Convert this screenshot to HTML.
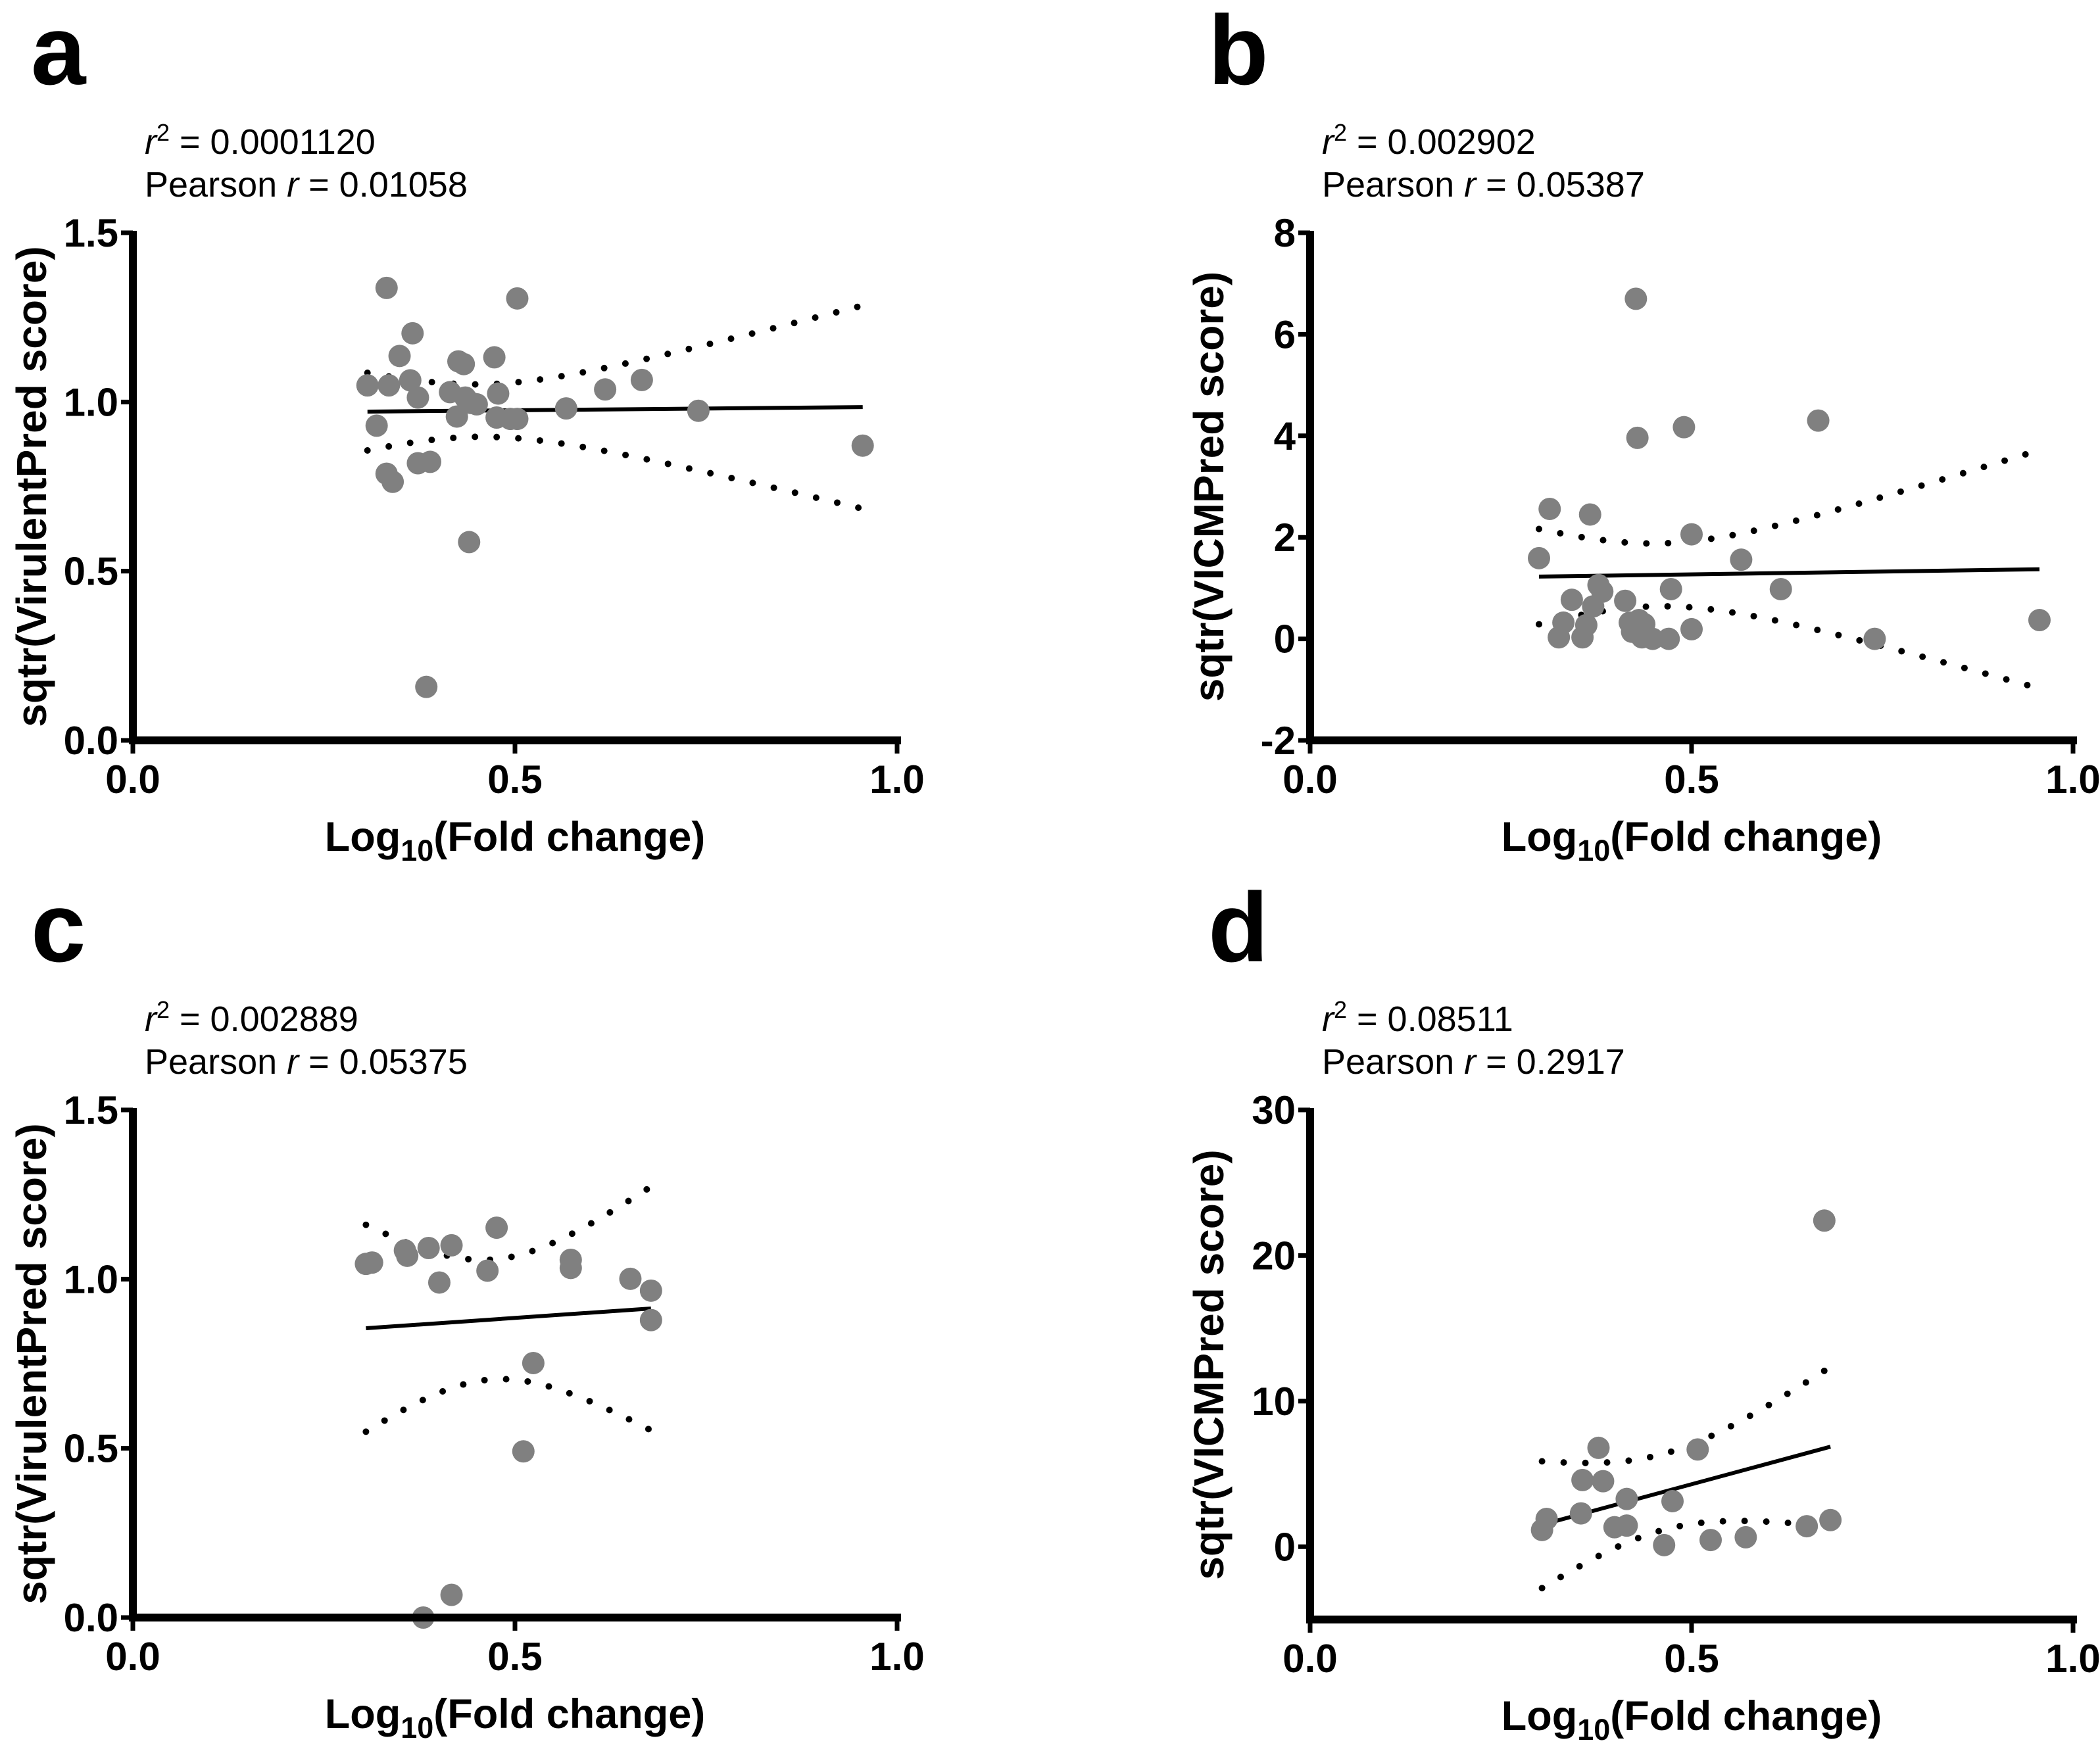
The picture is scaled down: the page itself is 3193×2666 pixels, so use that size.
<!DOCTYPE html>
<html><head><meta charset="utf-8"><style>
html,body{margin:0;padding:0;background:#fff}
svg{display:block}
.tick{font-family:"Liberation Sans Narrow","Liberation Sans",sans-serif;font-weight:bold;font-size:60px}
.ttl{font-family:"Liberation Sans",sans-serif;font-weight:bold;font-size:63px}
.ann{font-family:"Liberation Sans",sans-serif;font-size:54px}
.let{font-family:"Liberation Sans",sans-serif;font-weight:bold;font-size:150px}
</style></head><body>
<svg id="fig" width="3193" height="2666" viewBox="0 0 3193 2666" xmlns="http://www.w3.org/2000/svg"></svg>
<script>
// Panel a data
const aX=[0.307,0.332,0.319,0.335,0.349,0.363,0.366,0.373,0.332,0.340,0.373,0.389,0.384,0.415,0.426,0.433,0.424,0.435,0.443,0.450,0.440,0.473,0.478,0.476,0.494,0.503,0.503,0.567,0.618,0.666,0.740,0.955];
const aY=[1.049,1.337,0.930,1.049,1.136,1.064,1.203,1.013,0.788,0.764,0.819,0.823,0.158,1.029,1.120,1.112,0.957,1.013,0.997,0.993,0.586,1.132,1.025,0.954,0.950,0.950,1.306,0.981,1.037,1.065,0.974,0.871];
// Panel b data
const bX=[0.300,0.314,0.326,0.332,0.343,0.357,0.362,0.367,0.371,0.378,0.383,0.413,0.419,0.422,0.427,0.429,0.431,0.435,0.438,0.449,0.470,0.473,0.490,0.500,0.500,0.565,0.617,0.666,0.740,0.956];
const bY=[1.59,2.56,0.03,0.32,0.77,0.03,0.27,2.45,0.64,1.06,0.93,0.75,0.32,0.14,6.70,3.96,0.37,0.03,0.29,0.0,0.0,0.98,4.17,2.06,0.19,1.56,0.98,4.30,0.0,0.37];
// Panel c data
const cX=[0.305,0.313,0.356,0.359,0.387,0.401,0.417,0.380,0.417,0.464,0.476,0.524,0.511,0.573,0.573,0.651,0.678,0.678];
const cY=[1.045,1.049,1.085,1.069,1.092,0.990,1.100,0.0,0.067,1.025,1.152,0.752,0.491,1.057,1.033,1.001,0.966,0.879];
// Panel d data
const dX=[0.304,0.310,0.355,0.357,0.378,0.384,0.399,0.415,0.415,0.475,0.464,0.508,0.525,0.571,0.651,0.674,0.682];
const dY=[1.15,1.91,2.29,4.58,6.79,4.50,1.34,3.28,1.45,3.13,0.11,6.68,0.46,0.65,1.41,22.4,1.83];
// ticks
const xTicks=[0,0.5,1.0];
const xTickLabels=["0.0","0.5","1.0"];
const aYTicks=[0,0.5,1.0,1.5], aYLabels=["0.0","0.5","1.0","1.5"];
const bYTicks=[-2,0,2,4,6,8], bYLabels=["-2","0","2","4","6","8"];
const dYTicks=[0,10,20,30], dYLabels=["0","10","20","30"];
const annA=["0.0001120","0.01058"], annB=["0.002902","0.05387"], annC=["0.002889","0.05375"], annD=["0.08511","0.2917"];

const NS="http://www.w3.org/2000/svg";
const svg=document.getElementById('fig');
function mk(tag,attrs,parent,txt){const e=document.createElementNS(NS,tag);for(const k in attrs)e.setAttribute(k,attrs[k]);if(txt!==undefined)e.textContent=txt;parent.appendChild(e);return e;}
function tval(df){return df>=30?2.042:(df>=28?2.048:(df>=20?2.086:2.120));}

function panel(id,letter,X,Y,yT,yL,ymin,ymax,x0,x1,yTop,yBot,ytitle,ann){
  const g=mk('g',{},svg);
  
  
  const sx=v=>x0+(x1-x0)*v;
  const sy=v=>yBot-(yBot-yTop)*(v-ymin)/(ymax-ymin);
  const L=mk('text',{x:x0-155,y:yTop-226,class:'let'},g,letter);
  
  
  const a1=mk('text',{x:x0+18,y:yTop-120,class:'ann'},g);
  
  
  mk('tspan',{'font-style':'italic'},a1,'r');
  mk('tspan',{dy:-20,'font-size':'36'},a1,'2');
  mk('tspan',{dy:20},a1,' = '+ann[0]);
  const a2=mk('text',{x:x0+18,y:yTop-55,class:'ann'},g);
  
  
  mk('tspan',{},a2,'Pearson ');
  mk('tspan',{'font-style':'italic'},a2,'r');
  mk('tspan',{},a2,' = '+ann[1]);
  const n=X.length;let mx=0,my=0;for(let i=0;i<n;i++){mx+=X[i];my+=Y[i];}mx/=n;my/=n;
  let sxx=0,sxy=0;for(let i=0;i<n;i++){sxx+=(X[i]-mx)**2;sxy+=(X[i]-mx)*(Y[i]-my);}
  const b=sxy/sxx,a=my-b*mx;let sse=0;for(let i=0;i<n;i++)sse+=(Y[i]-a-b*X[i])**2;
  const s=Math.sqrt(sse/(n-2)),t=tval(n-2);
  const xmn=Math.min(...X),xmx=Math.max(...X);
  let up=[],lo=[];
  for(let k=0;k<=60;k++){const xv=xmn+(xmx-xmn)*k/60;const yh=a+b*xv;const h=t*s*Math.sqrt(1/n+(xv-mx)**2/sxx);
    up.push(sx(xv).toFixed(1)+','+sy(yh+h).toFixed(1));lo.push(sx(xv).toFixed(1)+','+sy(yh-h).toFixed(1));}
  const cu=mk('polyline',{points:up.join(' '),fill:'none',stroke:'#000','stroke-width':10,'stroke-linecap':'round','stroke-dasharray':'0 33'},g);
  
  
  const cl=mk('polyline',{points:lo.join(' '),fill:'none',stroke:'#000','stroke-width':10,'stroke-linecap':'round','stroke-dasharray':'0 33'},g);
  
  
  const fl=mk('line',{x1:sx(xmn),y1:sy(a+b*xmn),x2:sx(xmx),y2:sy(a+b*xmx),stroke:'#000','stroke-width':6},g);
  
  
  for(let i=0;i<n;i++){
    const c=mk('circle',{cx:sx(X[i]),cy:sy(Y[i]),r:17,fill:'#808080'},g);
    
    
  }
  const ya=mk('line',{x1:x0,y1:yTop-3,x2:x0,y2:yBot+6,stroke:'#000','stroke-width':12},g);
  
  
  const xa=mk('line',{x1:x0-6,y1:yBot,x2:x1+6,y2:yBot,stroke:'#000','stroke-width':12},g);
  
  
  yT.forEach((v,i)=>{
    const tk=mk('line',{x1:x0-18,y1:sy(v),x2:x0,y2:sy(v),stroke:'#000','stroke-width':7},g);
    
    
    const tl=mk('text',{x:x0-22,y:sy(v)+21,'text-anchor':'end',class:'tick'},g,yL[i]);
    
    
  });
  xTicks.forEach((v,i)=>{
    const tk=mk('line',{x1:sx(v),y1:yBot,x2:sx(v),y2:yBot+20,stroke:'#000','stroke-width':7},g);
    
    
    const tl=mk('text',{x:sx(v),y:yBot+80,'text-anchor':'middle',class:'tick'},g,xTickLabels[i]);
    
    
  });
  const xt=mk('text',{x:(x0+x1)/2,y:yBot+168,'text-anchor':'middle',class:'ttl'},g);
  
  
  mk('tspan',{},xt,'Log');mk('tspan',{dy:15,'font-size':'45'},xt,'10');mk('tspan',{dy:-15},xt,'(Fold change)');
  const yc=(yTop+yBot)/2;
  const yt=mk('text',{x:x0-132,y:yc,'text-anchor':'middle',class:'ttl',style:'font-size:64px',transform:`rotate(-90 ${x0-132} ${yc})`},g,ytitle);
  
  
}
panel('a','a',aX,aY,aYTicks,aYLabels,0,1.5,202,1364,354,1126,'sqtr(VirulentPred score)',annA);
panel('b','b',bX,bY,bYTicks,bYLabels,-2,8,1992,3152,354,1126,'sqtr(VICMPred score)',annB);
panel('c','c',cX,cY,aYTicks,aYLabels,0,1.5,202,1364,1688,2460,'sqtr(VirulentPred score)',annC);
panel('d','d',dX,dY,dYTicks,dYLabels,-5,30,1992,3152,1688,2463,'sqtr(VICMPred score)',annD);
</script>
</body></html>
